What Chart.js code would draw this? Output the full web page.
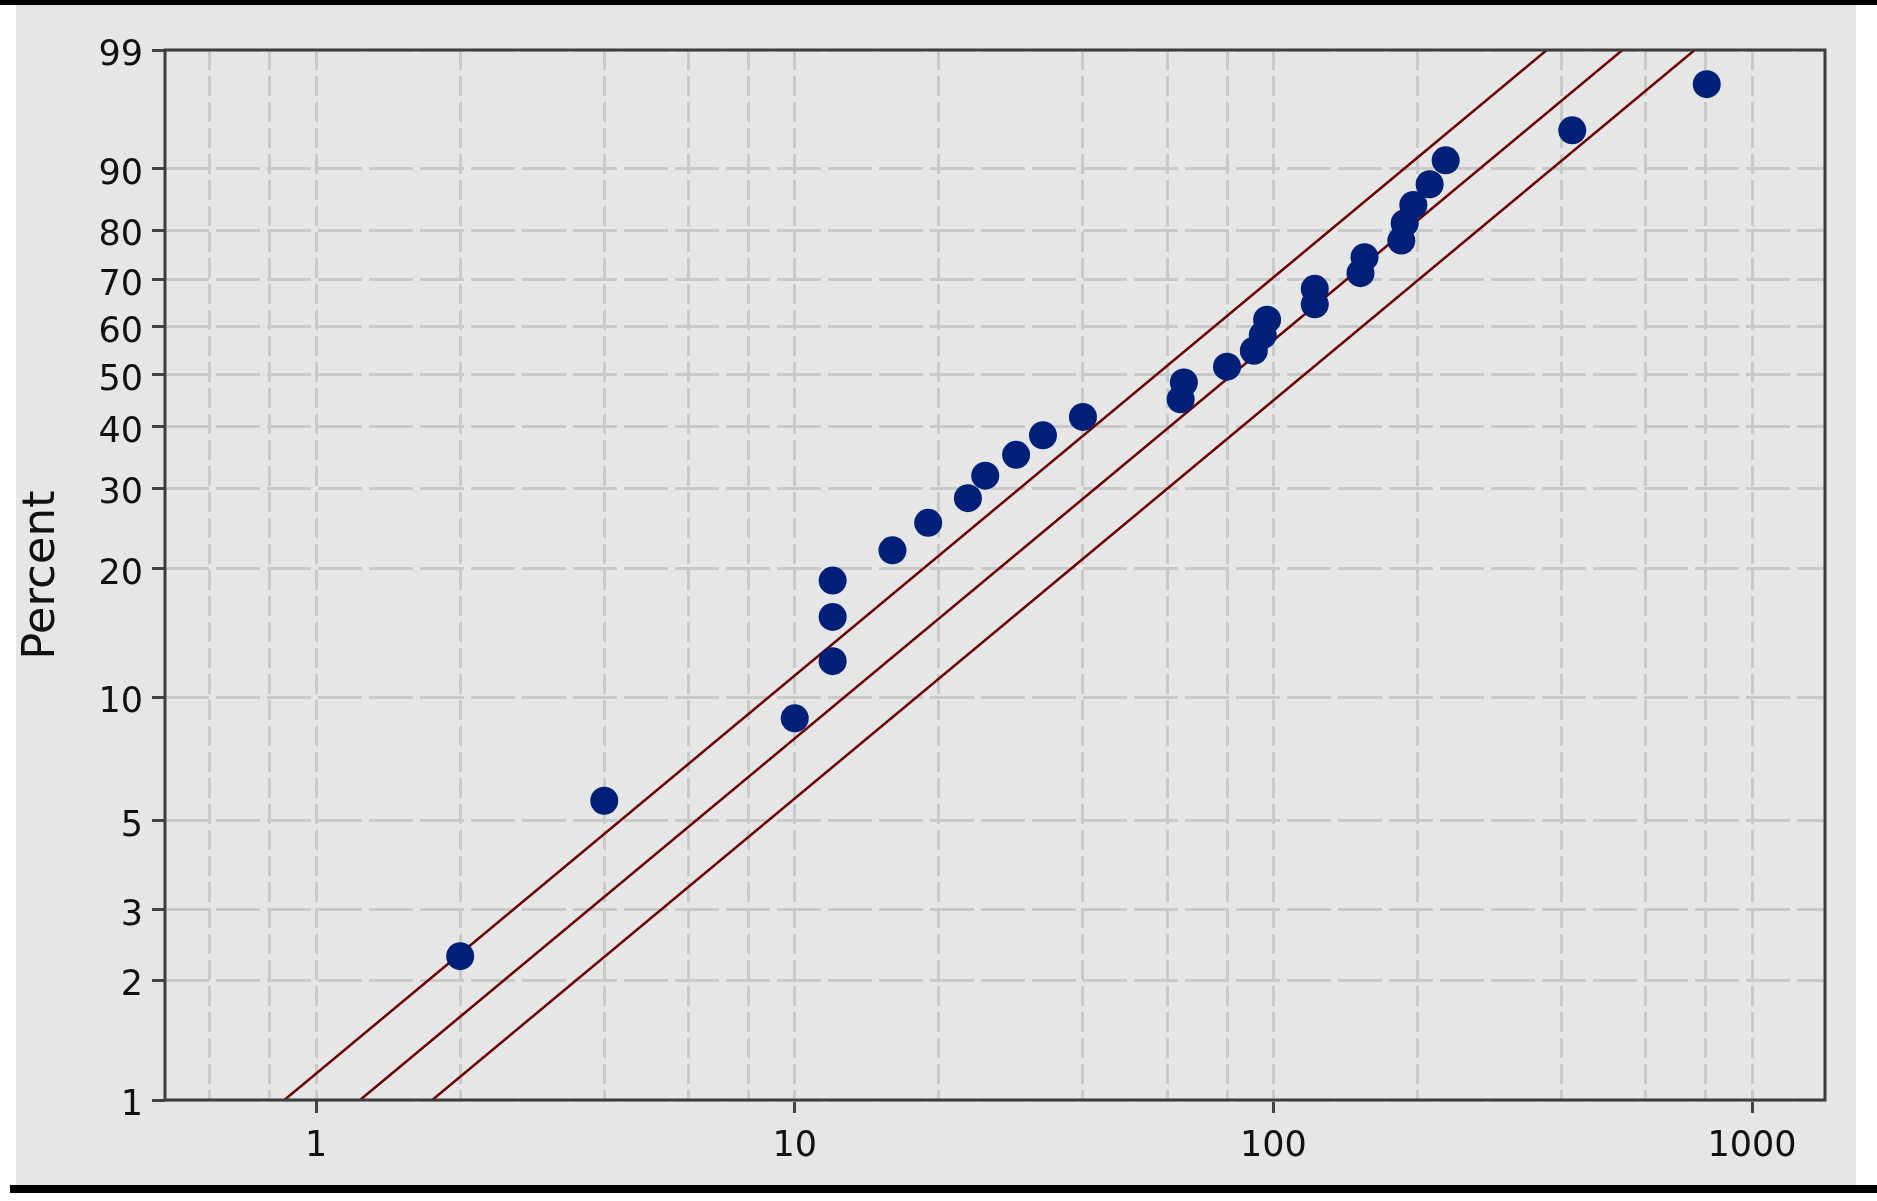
<!DOCTYPE html>
<html lang="en">
  <head>
    <meta charset="UTF-8" />
    <title>Probability plot</title>
    <script src="https://cdn.jsdelivr.net/npm/chart.js"></script>
    <style>
      html, body { margin: 0; padding: 0; background: #fff; }
      canvas { display: block; }
    </style>
  </head>
  <body>
    <canvas id="myChart" width="1877" height="1201"></canvas>

    <script>
      "use strict";
      // observed values, sorted, and the percent each one is plotted at
      const times = [2, 4, 10, 12, 12, 12, 16, 19, 23, 25, 29, 33, 40, 64, 65, 80, 91, 95, 97, 122, 122, 152, 155, 185, 188, 196, 212, 229, 421, 804];
      const percents = [2.3, 5.6, 8.9, 12.2, 15.5, 18.8, 22.0, 25.3, 28.6, 31.9, 35.2, 38.5, 41.8, 45.1, 48.4, 51.6, 54.9, 58.2, 61.5, 64.8, 68.1, 71.4, 74.7, 78.0, 81.3, 84.5, 87.8, 91.1, 94.4, 97.7];

      // fitted line and its two bounds (shape, scales)
      const fitShape = 1.009;
      const fitScales = [82, 118, 167];
      const lineEnds = [1, 99];

      const yTicks = [1, 2, 3, 5, 10, 20, 30, 40, 50, 60, 70, 80, 90, 99];
      const xGrid = [0.6, 0.8, 1, 2, 4, 6, 8, 10, 20, 40, 60, 80, 100, 200, 400, 600, 800, 1000];
      const xLabels = [1, 10, 100, 1000];

      // weibull paper: y = ln(-ln(1 - p))
      const weib = (pct) => Math.log(-Math.log(1 - pct / 100));

      const pointData = times.map((t, i) => ({ x: t, y: weib(percents[i]) }));

      const lineSets = fitScales.map((eta) => ({
        data: lineEnds.map((p) => ({
          x: eta * Math.pow(-Math.log(1 - p / 100), 1 / fitShape),
          y: weib(p),
        })),
        showLine: true,
        borderColor: "#6b0000",
        borderWidth: 2.5,
        pointRadius: 0,
        fill: false,
      }));

      const frame = {
        id: "frame",
        beforeDraw(chart) {
          const c = chart.ctx;
          c.save();
          c.fillStyle = "#fff";
          c.fillRect(0, 0, chart.width, chart.height);
          c.fillStyle = "#e6e6e6";
          c.fillRect(16, 5, 1840, 1180);
          c.fillStyle = "#000";
          c.fillRect(0, 0, chart.width, 5);
          c.fillRect(10, 1185, chart.width - 10, 8);
          c.restore();
        },
        afterDraw(chart) {
          const { left, top, right, bottom } = chart.chartArea;
          const c = chart.ctx;
          c.save();
          c.strokeStyle = "#3d3d3d";
          c.lineWidth = 3;
          c.strokeRect(left, top, right - left, bottom - top);
          c.restore();
        },
      };

      const tickFont = { family: "DejaVu Sans", size: 35, lineHeight: 1 };

      new Chart(document.getElementById("myChart"), {
        type: "scatter",
        data: {
          datasets: [
            {
              data: pointData,
              pointRadius: 14,
              pointBackgroundColor: "#002078",
              pointBorderWidth: 0,
              showLine: false,
            },
            ...lineSets,
          ],
        },
        options: {
          responsive: false,
          devicePixelRatio: 1,
          animation: false,
          layout: { padding: { left: 0, right: 52, top: 50, bottom: 0 } },
          plugins: {
            legend: { display: false },
            tooltip: { enabled: false },
          },
          scales: {
            x: {
              type: "logarithmic",
              bounds: "data",
              min: 0.4835,
              max: 1420,
              afterBuildTicks: (s) => {
                s.ticks = xGrid.map((v) => ({ value: v }));
              },
              afterFit: (s) => {
                s.height = 101;
              },
              ticks: {
                autoSkip: false,
                maxRotation: 0,
                minRotation: 0,
                padding: 16,
                color: "#111",
                font: tickFont,
                callback: (v) => (xLabels.includes(v) ? String(v) : ""),
              },
              grid: {
                color: "#c9c9c9",
                lineWidth: 3,
                tickLength: 13,
                tickWidth: 3,
                tickColor: (c) =>
                  c.tick && xLabels.includes(c.tick.value) ? "#444" : "rgba(0,0,0,0)",
              },
              border: { display: false, dash: [20, 6] },
            },
            y: {
              type: "linear",
              bounds: "data",
              min: weib(1),
              max: weib(99),
              afterBuildTicks: (s) => {
                s.ticks = yTicks.map((p) => ({ value: weib(p) }));
              },
              afterFit: (s) => {
                s.width = 165;
              },
              ticks: {
                autoSkip: false,
                padding: 9,
                labelOffset: 6,
                color: "#111",
                font: tickFont,
                callback: (v, i) => String(yTicks[i]),
              },
              grid: {
                color: "#c9c9c9",
                lineWidth: 3,
                tickLength: 13,
                tickWidth: 3,
                tickColor: "#444",
              },
              border: { display: false, dash: [44, 7] },
              title: {
                display: true,
                text: "Percent",
                color: "#111",
                font: { family: "DejaVu Sans", size: 45, lineHeight: 1 },
                padding: { top: 20, bottom: 0 },
              },
            },
          },
        },
        plugins: [frame],
      });
    </script>
  </body>
</html>
